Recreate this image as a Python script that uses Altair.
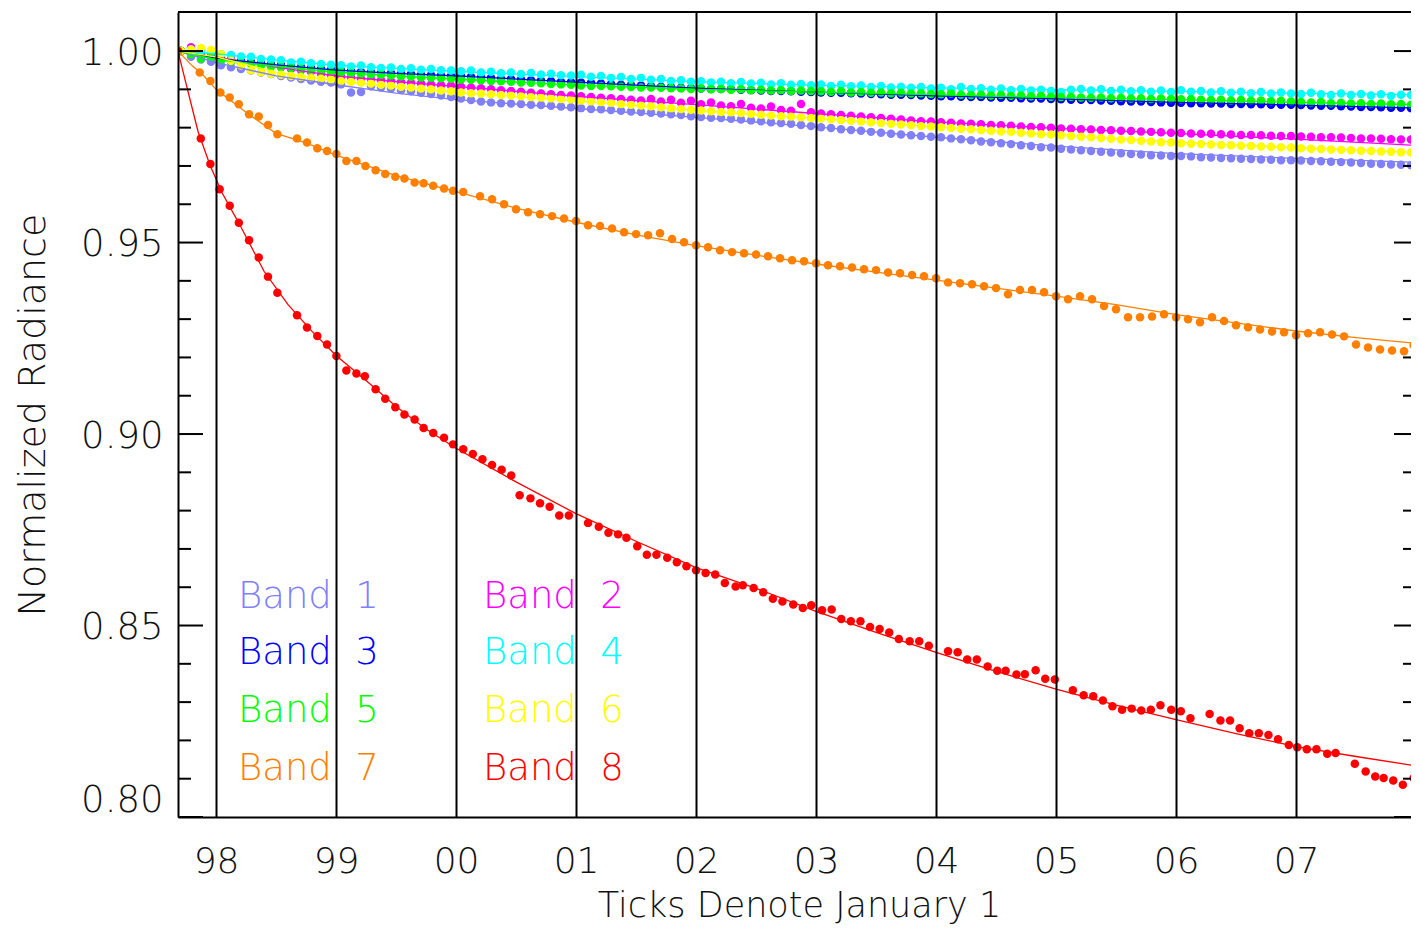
import altair as alt
import pandas as pd

BAND_NAMES = ["Band 1", "Band 2", "Band 3", "Band 4", "Band 5", "Band 6", "Band 7", "Band 8"]
COLORS = ["#8080ff", "#ff00ff", "#0000ff", "#00ffff", "#00ff00", "#ffff00", "#ff8000", "#ff0000"]

# Bands 1-6: monthly samples (value x 1e-4), first sample at 1997.708
MONTH_START = 1997.708
B1 = [10000, 9985, 9978, 9972,
      9963, 9958, 9953, 9949, 9944, 9940, 9935, 9931, 9927, 9923, 9920, 9918,
      9913, 9892, 9893, 9908, 9905, 9902, 9898, 9895, 9891, 9888, 9884, 9880,
      9876, 9872, 9868, 9866, 9864, 9863, 9862, 9860, 9859, 9857, 9855, 9853,
      9851, 9849, 9848, 9846, 9844, 9842, 9841, 9839, 9837, 9835, 9833, 9830,
      9828, 9826, 9825, 9823, 9821, 9819, 9817, 9814, 9812, 9810, 9807, 9804,
      9801, 9799, 9796, 9794, 9792, 9789, 9787, 9784, 9782, 9780, 9778, 9776,
      9775, 9772, 9770, 9767, 9764, 9762, 9759, 9757, 9754, 9752, 9749, 9748,
      9745, 9743, 9741, 9739, 9737, 9735, 9733, 9731, 9730, 9728, 9727, 9726,
      9726, 9725, 9723, 9722, 9721, 9720, 9719, 9718, 9717, 9716, 9715, 9715,
      9714, 9713, 9712, 9711, 9710, 9709, 9708, 9706, 9705, 9704, 9703, 9702]
B2 = [10000, 10010, 10004, 9995,
      9985, 9980, 9976, 9971, 9966, 9962, 9958, 9953, 9950, 9946, 9941, 9937,
      9933, 9931, 9928, 9926, 9924, 9921, 9919, 9917, 9915, 9913, 9911, 9910,
      9907, 9905, 9903, 9900, 9898, 9896, 9894, 9891, 9889, 9887, 9885, 9884,
      9882, 9880, 9878, 9877, 9875, 9873, 9871, 9875, 9868, 9873, 9865, 9870,
      9861, 9866, 9858, 9856, 9862, 9852, 9850, 9855, 9846, 9844, 9862, 9840,
      9837, 9835, 9833, 9831, 9829, 9827, 9825, 9823, 9821, 9819, 9817, 9816,
      9814, 9813, 9811, 9810, 9809, 9807, 9806, 9805, 9803, 9802, 9801, 9800,
      9798, 9797, 9796, 9795, 9794, 9793, 9792, 9791, 9790, 9789, 9788, 9787,
      9786, 9785, 9784, 9784, 9783, 9782, 9781, 9781, 9780, 9779, 9778, 9778,
      9777, 9776, 9775, 9775, 9774, 9773, 9772, 9772, 9771, 9770, 9769, 9769]
B3 = [10000, 9994, 9990, 9984,
      9978, 9975, 9973, 9970, 9968, 9965, 9963, 9960, 9958, 9956, 9953, 9951,
      9949, 9948, 9946, 9945, 9943, 9942, 9941, 9940, 9938, 9937, 9936, 9935,
      9934, 9933, 9931, 9930, 9928, 9927, 9926, 9924, 9923, 9922, 9920, 9919,
      9918, 9917, 9915, 9914, 9912, 9911, 9910, 9908, 9907, 9906, 9904, 9903,
      9902, 9901, 9901, 9900, 9899, 9898, 9897, 9896, 9896, 9895, 9894, 9893,
      9892, 9891, 9891, 9890, 9889, 9888, 9887, 9886, 9886, 9885, 9884, 9883,
      9882, 9882, 9881, 9880, 9880, 9879, 9878, 9878, 9877, 9876, 9876, 9875,
      9874, 9873, 9873, 9872, 9871, 9870, 9869, 9868, 9868, 9867, 9866, 9865,
      9865, 9864, 9864, 9863, 9863, 9862, 9862, 9861, 9861, 9860, 9860, 9860,
      9859, 9858, 9857, 9857, 9856, 9855, 9854, 9854, 9853, 9852, 9852, 9851]
B4 = [10000, 10004, 10001, 9997,
      9992, 9990, 9986, 9985, 9979, 9978, 9976, 9970, 9972, 9968, 9966, 9964,
      9963, 9960, 9962, 9958, 9956, 9957, 9953, 9955, 9951, 9953, 9950, 9949,
      9947, 9949, 9944, 9946, 9942, 9944, 9940, 9943, 9939, 9941, 9937, 9936,
      9938, 9933, 9935, 9930, 9932, 9927, 9930, 9925, 9927, 9922, 9924, 9920,
      9921, 9918, 9920, 9916, 9919, 9915, 9917, 9913, 9916, 9912, 9914, 9911,
      9913, 9909, 9912, 9908, 9910, 9906, 9909, 9905, 9907, 9904, 9906, 9902,
      9904, 9900, 9906, 9901, 9903, 9899, 9902, 9898, 9901, 9897, 9899, 9896,
      9893, 9899, 9901, 9897, 9900, 9896, 9899, 9895, 9898, 9894, 9897, 9893,
      9898, 9894, 9896, 9892, 9895, 9891, 9894, 9890, 9893, 9889, 9892, 9889,
      9888, 9891, 9887, 9885, 9889, 9885, 9888, 9884, 9887, 9883, 9886, 9885]
B5 = [10000, 9992, 9980, 9983,
      9976, 9972, 9968, 9966, 9962, 9960, 9958, 9956, 9953, 9950, 9948, 9946,
      9944, 9942, 9941, 9939, 9938, 9936, 9934, 9933, 9931, 9930, 9929, 9928,
      9926, 9925, 9924, 9922, 9921, 9920, 9918, 9917, 9916, 9914, 9913, 9912,
      9910, 9909, 9909, 9908, 9907, 9906, 9905, 9905, 9904, 9903, 9902, 9901,
      9902, 9900, 9901, 9899, 9900, 9898, 9899, 9897, 9898, 9896, 9897, 9896,
      9895, 9894, 9896, 9892, 9893, 9891, 9892, 9890, 9891, 9889, 9890, 9888,
      9887, 9889, 9886, 9885, 9886, 9884, 9885, 9883, 9884, 9882, 9883, 9881,
      9880, 9881, 9879, 9878, 9879, 9877, 9878, 9876, 9877, 9875, 9876, 9875,
      9874, 9875, 9873, 9872, 9873, 9871, 9872, 9870, 9871, 9869, 9870, 9868,
      9867, 9866, 9867, 9864, 9865, 9863, 9864, 9862, 9863, 9861, 9862, 9860]
B6 = [10000, 10004, 10008, 10003,
      9992, 9975, 9962, 9950, 9945, 9941, 9938, 9935, 9932, 9930, 9928, 9926,
      9922, 9920, 9917, 9915, 9912, 9910, 9907, 9905, 9902, 9900, 9897, 9895,
      9892, 9890, 9889, 9887, 9885, 9884, 9882, 9880, 9879, 9877, 9875, 9874,
      9871, 9869, 9867, 9865, 9862, 9860, 9858, 9856, 9853, 9851, 9849, 9847,
      9845, 9843, 9841, 9840, 9838, 9836, 9834, 9832, 9830, 9829, 9827, 9825,
      9824, 9822, 9820, 9818, 9816, 9814, 9812, 9810, 9808, 9806, 9804, 9803,
      9801, 9799, 9797, 9796, 9794, 9792, 9790, 9789, 9787, 9785, 9783, 9782,
      9780, 9778, 9776, 9775, 9773, 9771, 9769, 9768, 9766, 9764, 9762, 9761,
      9759, 9758, 9757, 9756, 9755, 9754, 9753, 9752, 9751, 9750, 9749, 9748,
      9746, 9745, 9744, 9743, 9742, 9741, 9740, 9739, 9738, 9737, 9736, 9735]

# Band 7 (orange) samples
ORANGE_T = [1997.683, 1997.864, 1997.953, 1998.036, 1998.114, 1998.19, 1998.275, 1998.356,
            1998.433, 1998.511, 1998.675, 1998.758, 1998.844, 1998.925, 1999.003, 1999.086,
            1999.17, 1999.245, 1999.33, 1999.41, 1999.494, 1999.57, 1999.655, 1999.73,
            1999.81, 1999.9, 1999.975, 2000.06,
            2000.2, 2000.3, 2000.4, 2000.5, 2000.6, 2000.7, 2000.8, 2000.9, 2001.0,
            2001.1, 2001.2, 2001.3, 2001.4, 2001.5, 2001.6, 2001.7, 2001.8, 2001.9, 2002.0,
            2002.1, 2002.2, 2002.3, 2002.4, 2002.5, 2002.6, 2002.7, 2002.8, 2002.9, 2003.0,
            2003.1, 2003.2, 2003.3, 2003.4, 2003.5, 2003.6, 2003.7, 2003.8, 2003.9, 2004.0,
            2004.1, 2004.2, 2004.3, 2004.4, 2004.5, 2004.6, 2004.7, 2004.8, 2004.9, 2005.0,
            2005.1, 2005.2, 2005.3, 2005.4, 2005.5, 2005.6, 2005.7, 2005.8, 2005.9, 2006.0,
            2006.1, 2006.2, 2006.3, 2006.4, 2006.5, 2006.6, 2006.7, 2006.8, 2006.9, 2007.0,
            2007.1, 2007.2, 2007.3, 2007.4, 2007.5, 2007.6, 2007.7, 2007.8, 2007.9, 2007.98]
ORANGE_V = [1.0000, 0.9944, 0.9922, 0.9892, 0.9879, 0.9861, 0.9835, 0.9829,
            0.9807, 0.9783, 0.9772, 0.9761, 0.9746, 0.9739, 0.9731, 0.9713,
            0.9713, 0.9700, 0.9689, 0.9679, 0.9672, 0.9667, 0.9657, 0.9655,
            0.9648, 0.9641, 0.9635, 0.9632,
            0.9621, 0.9613, 0.9600, 0.9587, 0.9579, 0.9574, 0.9569, 0.9563, 0.9556,
            0.9545, 0.9543, 0.9537, 0.9527, 0.9522, 0.9519, 0.9524, 0.9509, 0.9501, 0.9493,
            0.9488, 0.9480, 0.9475, 0.9472, 0.9469, 0.9464, 0.9459, 0.9454, 0.9451, 0.9446,
            0.9441, 0.9438, 0.9435, 0.9430, 0.9428, 0.9422, 0.9420, 0.9415, 0.9412, 0.9407,
            0.9396, 0.9394, 0.9391, 0.9386, 0.9381, 0.9365, 0.9376, 0.9376, 0.9370, 0.9360,
            0.9352, 0.9360, 0.9352, 0.9334, 0.9326, 0.9305, 0.9305, 0.9307, 0.9313, 0.9305,
            0.9300, 0.9292, 0.9305, 0.9295, 0.9284, 0.9279, 0.9273, 0.9268, 0.9266, 0.9258,
            0.9263, 0.9266, 0.9260, 0.9255, 0.9234, 0.9226, 0.9221, 0.9218, 0.9216, 0.9232]

# Band 8 (red) samples
RED_T = [1997.683, 1997.873, 1997.953, 1998.03, 1998.114, 1998.19, 1998.275, 1998.356,
         1998.433, 1998.511, 1998.675, 1998.758, 1998.844, 1998.925, 1999.003, 1999.086,
         1999.17, 1999.24, 1999.33, 1999.41, 1999.494, 1999.57, 1999.655, 1999.73,
         1999.81, 1999.9, 1999.975, 2000.06, 2000.14, 2000.22, 2000.3, 2000.38,
         2000.46, 2000.53, 2000.62, 2000.7, 2000.78, 2000.86, 2000.94, 2001.1,
         2001.19, 2001.27, 2001.35, 2001.42, 2001.51, 2001.59, 2001.67, 2001.76,
         2001.84, 2001.92, 2002.0, 2002.08, 2002.16, 2002.24, 2002.33, 2002.39,
         2002.48, 2002.56, 2002.64, 2002.72, 2002.81, 2002.89, 2002.96, 2003.05,
         2003.13, 2003.21, 2003.29, 2003.37, 2003.45, 2003.53, 2003.61, 2003.69,
         2003.78, 2003.86, 2003.94, 2004.1, 2004.18, 2004.26, 2004.34, 2004.43,
         2004.51, 2004.58, 2004.67, 2004.74, 2004.83, 2004.91, 2004.99, 2005.14,
         2005.23, 2005.31, 2005.39, 2005.47, 2005.55, 2005.63, 2005.71, 2005.79,
         2005.87, 2005.96, 2006.04, 2006.12, 2006.28, 2006.37, 2006.45, 2006.53,
         2006.61, 2006.69, 2006.77, 2006.85, 2006.94, 2007.01, 2007.09, 2007.17,
         2007.26, 2007.33, 2007.49, 2007.58, 2007.66, 2007.73, 2007.81, 2007.89, 2007.98]
RED_V = [1.0000, 0.9772, 0.9705, 0.9639, 0.9596, 0.9552, 0.9506, 0.9461,
         0.9411, 0.9369, 0.9310, 0.9278, 0.9256, 0.9234, 0.9204, 0.9166,
         0.9158, 0.9151, 0.9117, 0.9092, 0.9070, 0.9051, 0.9038, 0.9016,
         0.9003, 0.8990, 0.8973, 0.8960, 0.8948, 0.8934, 0.8919, 0.8907,
         0.8892, 0.8840, 0.8832, 0.8819, 0.8810, 0.8787, 0.8787, 0.8768,
         0.8758, 0.8742, 0.8738, 0.8729, 0.8707, 0.8685, 0.8685, 0.8677,
         0.8665, 0.8655, 0.8644, 0.8637, 0.8633, 0.8611, 0.8602, 0.8605,
         0.8598, 0.8587, 0.8570, 0.8563, 0.8555, 0.8546, 0.8553, 0.8540,
         0.8542, 0.8517, 0.8511, 0.8511, 0.8496, 0.8491, 0.8482, 0.8465,
         0.8459, 0.8459, 0.8447, 0.8433, 0.8430, 0.8411, 0.8411, 0.8393,
         0.8382, 0.8382, 0.8372, 0.8373, 0.8383, 0.8361, 0.8359, 0.8331,
         0.8318, 0.8315, 0.8304, 0.8289, 0.8280, 0.8283, 0.8278, 0.8280,
         0.8292, 0.8280, 0.8276, 0.8258, 0.8269, 0.8252, 0.8252, 0.8232,
         0.8219, 0.8219, 0.8214, 0.8203, 0.8188, 0.8182, 0.8177, 0.8177,
         0.8165, 0.8167, 0.8139, 0.8119, 0.8106, 0.8102, 0.8095, 0.8084, 0.8102]

# Fitted curves
FIT_T_TOP = [1997.683, 1998.0, 1998.5, 1999.0, 1999.5, 2000.0, 2001.0, 2002.0, 2003.0,
             2004.0, 2005.0, 2006.0, 2007.0, 2008.03]
FIT1 = [1.0000, 0.9970, 0.9935, 0.9912, 0.9890, 0.9873, 0.9850, 0.9827, 0.9802, 0.9775, 0.9752, 0.9732, 0.9720, 0.9709]
FIT2 = [1.0000, 0.9985, 0.9958, 0.9935, 0.9920, 0.9908, 0.9882, 0.9860, 0.9837, 0.9815, 0.9798, 0.9785, 0.9770, 0.9753]
FIT3 = [1.0000, 0.9981, 0.9964, 0.9950, 0.9942, 0.9935, 0.9919, 0.9903, 0.9893, 0.9883, 0.9875, 0.9866, 0.9859, 0.9851]
FIT4 = [1.0000, 0.9993, 0.9977, 0.9963, 0.9955, 0.9947, 0.9933, 0.9920, 0.9911, 0.9904, 0.9899, 0.9895, 0.9890, 0.9886]
FIT5 = [1.0000, 0.9978, 0.9960, 0.9945, 0.9935, 0.9927, 0.9911, 0.9900, 0.9893, 0.9886, 0.9879, 0.9873, 0.9866, 0.9860]
FIT6 = [1.0000, 0.9985, 0.9945, 0.9922, 0.9906, 0.9892, 0.9870, 0.9845, 0.9824, 0.9802, 0.9781, 0.9762, 0.9748, 0.9735]
FIT7_T = [1997.683, 1997.8, 1997.9, 1998.0, 1998.25, 1998.5, 1998.75, 1999.0, 1999.5, 2000.0,
          2000.5, 2001.0, 2001.5, 2002.0, 2002.5, 2003.0, 2003.5, 2004.0, 2004.5, 2005.0,
          2005.5, 2006.0, 2006.5, 2007.0, 2007.5, 2008.03]
FIT7 = [1.0000, 0.9962, 0.9935, 0.9900, 0.9840, 0.9785, 0.9760, 0.9728, 0.9675, 0.9633,
        0.9590, 0.9553, 0.9520, 0.9492, 0.9467, 0.9444, 0.9423, 0.9402, 0.9381, 0.9360,
        0.9338, 0.9312, 0.9290, 0.9269, 0.9252, 0.9236]
FIT8_T = [1997.683, 1997.75, 1997.85, 1997.95, 1998.05, 1998.2, 1998.4, 1998.6, 1998.8,
          1999.0, 1999.25, 1999.5, 1999.75, 2000.0, 2000.5, 2001.0, 2001.5, 2002.0, 2002.5,
          2003.0, 2003.5, 2004.0, 2004.5, 2005.0, 2005.5, 2006.0, 2006.5, 2007.0, 2007.5, 2008.03]
FIT8 = [1.0000, 0.9915, 0.9790, 0.9702, 0.9630, 0.9545, 0.9425, 0.9338, 0.9268,
        0.9205, 0.9140, 0.9072, 0.9013, 0.8963, 0.8875, 0.8792, 0.8720, 0.8651, 0.8597,
        0.8537, 0.8482, 0.8430, 0.8380, 0.8334, 0.8292, 0.8254, 0.8218, 0.8184, 0.8158, 0.8132]

YEAR_TICKS = [1998, 1999, 2000, 2001, 2002, 2003, 2004, 2005, 2006, 2007]
Y_LABELS = [0.80, 0.85, 0.90, 0.95, 1.00]
Y_MINOR = [0.81, 0.82, 0.83, 0.84, 0.86, 0.87, 0.88, 0.89, 0.91, 0.92, 0.93, 0.94,
           0.96, 0.97, 0.98, 0.99]

# ---- build tables ----
pts = []
for i, vals in enumerate([B1, B2, B3, B4, B5, B6]):
    for k, v in enumerate(vals):
        pts.append({"t": MONTH_START + k / 12.0, "v": v / 10000.0, "band": BAND_NAMES[i], "ord": i})
for t, v in zip(ORANGE_T, ORANGE_V):
    pts.append({"t": t, "v": v, "band": BAND_NAMES[6], "ord": 6})
for t, v in zip(RED_T, RED_V):
    pts.append({"t": t, "v": v, "band": BAND_NAMES[7], "ord": 7})
pts = pd.DataFrame(pts)

fits = []
for i, vals in enumerate([FIT1, FIT2, FIT3, FIT4, FIT5, FIT6]):
    for t, v in zip(FIT_T_TOP, vals):
        fits.append({"t": t, "v": v, "band": BAND_NAMES[i]})
for t, v in zip(FIT7_T, FIT7):
    fits.append({"t": t, "v": v, "band": BAND_NAMES[6]})
for t, v in zip(FIT8_T, FIT8):
    fits.append({"t": t, "v": v, "band": BAND_NAMES[7]})
fits = pd.DataFrame(fits)

# ---- layout ----
W, H = 1233, 805
FONT = "DejaVu Sans"
xs = alt.Scale(domain=[1997.683, 2007.958], nice=False, zero=False)
ys = alt.Scale(domain=[0.80, 1.0102], nice=False, zero=False)
cs = alt.Scale(domain=BAND_NAMES, range=COLORS)

xaxis = alt.Axis(values=YEAR_TICKS, labelExpr="format(datum.value % 100, '02d')",
                 grid=True, gridColor="black", gridWidth=2, gridOpacity=1,
                 ticks=False, domain=True, domainColor="black", domainWidth=2,
                 labelFont=FONT, labelFontSize=36, labelColor="#111", labelPadding=27,
                 labelFlush=False, labelFontWeight=200,
                 title="Ticks Denote January 1", titleFont=FONT, titleFontSize=35,
                 titleFontWeight=200, titleColor="#111", titleX=621, titleY=99,
                 titleBaseline="alphabetic", titleAlign="center", zindex=1)
yaxis = alt.Axis(values=Y_LABELS, format=".2f", grid=False, ticks=False,
                 domain=True, domainColor="black", domainWidth=2,
                 labelFont=FONT, labelFontSize=37, labelColor="#111", labelPadding=15,
                 labelFlush=True, labelOffset=2, labelFontWeight=200,
                 title="Normalized Radiance", titleFont=FONT, titleFontSize=38,
                 titleFontWeight=200, titleColor="#111", titleX=-134, titleY=H / 2,
                 titleAngle=-90, titleAlign="center", titleBaseline="alphabetic", zindex=1)

points = alt.Chart(pts).mark_circle(size=72, opacity=1, clip=True).encode(
    x=alt.X("t:Q", scale=xs, axis=xaxis),
    y=alt.Y("v:Q", scale=ys, axis=yaxis),
    color=alt.Color("band:N", scale=cs, legend=None),
    order=alt.Order("ord:Q"),
)

lines = alt.Chart(fits).mark_line(strokeWidth=1.3, clip=True).encode(
    x=alt.X("t:Q", scale=xs),
    y=alt.Y("v:Q", scale=ys),
    color=alt.Color("band:N", scale=cs, legend=None),
    detail="band:N",
    order=alt.Order("t:Q"),
)

major_df = pd.DataFrame({"v": Y_LABELS})
minor_df = pd.DataFrame({"v": Y_MINOR})
MAJ, MIN = 25, 13
tick_layers = [
    alt.Chart(major_df).mark_rule(color="black", strokeWidth=2).encode(
        y=alt.Y("v:Q", scale=ys), x=alt.value(0), x2=alt.value(MAJ)),
    alt.Chart(minor_df).mark_rule(color="black", strokeWidth=2).encode(
        y=alt.Y("v:Q", scale=ys), x=alt.value(0), x2=alt.value(MIN)),
    alt.Chart(major_df).mark_rule(color="black", strokeWidth=2).encode(
        y=alt.Y("v:Q", scale=ys), x=alt.value(W - MAJ + 8), x2=alt.value(W)),
    alt.Chart(minor_df).mark_rule(color="black", strokeWidth=2).encode(
        y=alt.Y("v:Q", scale=ys), x=alt.value(W - MIN + 5), x2=alt.value(W)),
]

top_border = alt.Chart(pd.DataFrame({"a": [0]})).mark_rule(color="black", strokeWidth=2).encode(
    x=alt.value(0), x2=alt.value(W), y=alt.value(0))

# legend (layout positions in pixels inside the plot area)
COL_X = [60, 305]
NUM_X = [189, 434]
ROW_Y = [596, 652, 710, 768]
leg = []
for i, name in enumerate(BAND_NAMES):
    col, row = i % 2, i // 2
    leg.append({"band": name, "word": "Band", "num": name.split(" ")[1],
                "px": COL_X[col], "nx": NUM_X[col], "py": ROW_Y[row]})
leg = pd.DataFrame(leg)

leg_word = alt.Chart(leg).mark_text(font=FONT, fontSize=37, fontWeight=200, align="left",
                                    baseline="alphabetic").encode(
    x=alt.X("px:Q", scale=None), y=alt.Y("py:Q", scale=None), text="word:N",
    color=alt.Color("band:N", scale=cs, legend=None))
leg_num = alt.Chart(leg).mark_text(font=FONT, fontSize=37, fontWeight=200, align="center",
                                   baseline="alphabetic").encode(
    x=alt.X("nx:Q", scale=None), y=alt.Y("py:Q", scale=None), text="num:N",
    color=alt.Color("band:N", scale=cs, legend=None))

chart = alt.layer(points, lines, *tick_layers, top_border, leg_word, leg_num).properties(
    width=W, height=H,
    autosize=alt.AutoSizeParams(type="none"),
    padding={"left": 170, "top": 4, "right": 0, "bottom": 107},
    background="white",
).configure_view(stroke=None)

chart.save("out.html", embed_options={"renderer": "svg", "actions": False})
